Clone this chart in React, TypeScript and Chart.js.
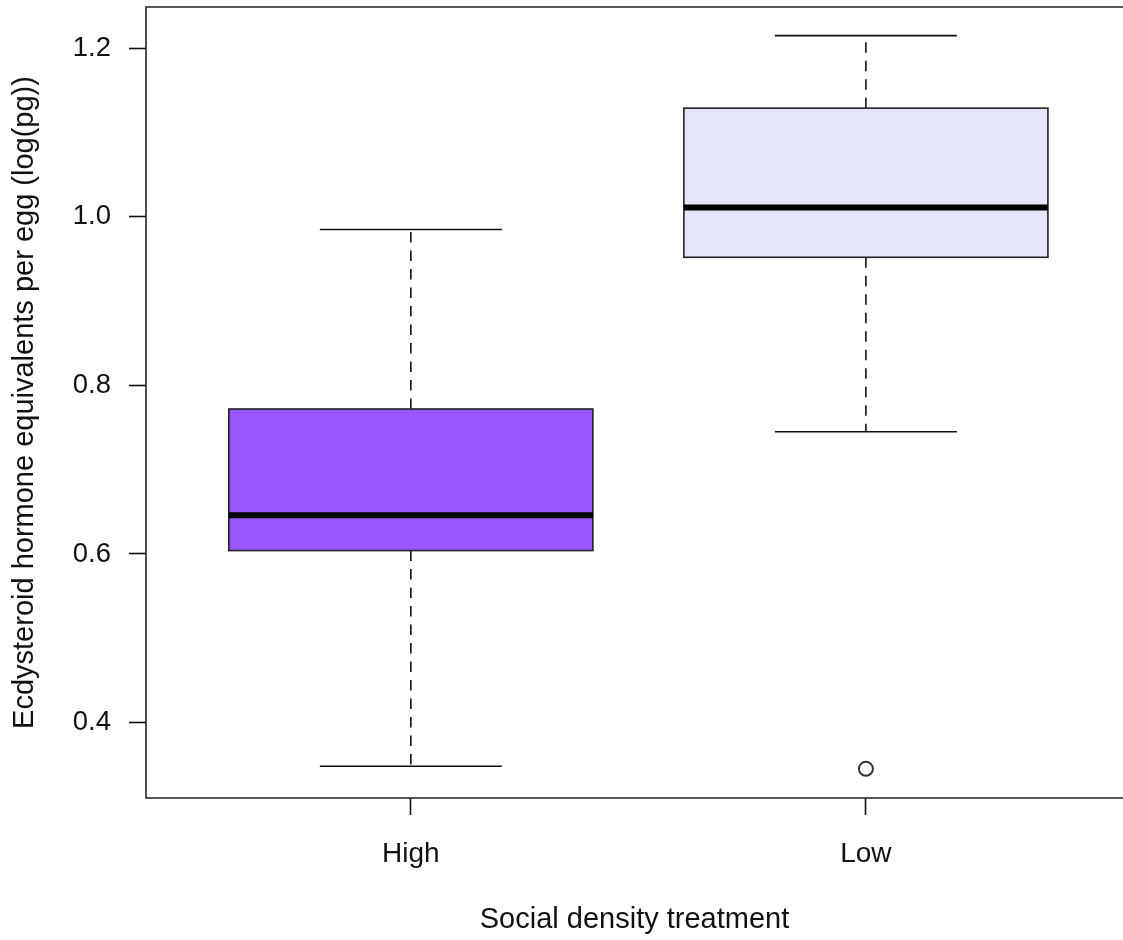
import React, { useEffect, useRef } from "react";
import { Chart, registerables } from "chart.js";

Chart.register(...registerables);

const categories = ["High", "Low"];
const whiskerLow = [0.348, 0.745];
const q1 = [0.604, 0.952];
const median = [0.646, 1.011];
const q3 = [0.772, 1.129];
const whiskerHigh = [0.985, 1.215];
const outliers = [[], [0.345]];
const boxColors = ["#9B55FC", "#E6E6FA"];
const yTicks = [0.4, 0.6, 0.8, 1.0, 1.2];

const FONT = "'Liberation Sans', Arial, sans-serif";

const boxPlugin = {
  id: "boxplot",
  beforeDatasetsDraw(chart: any) {
    const { ctx, scales } = chart;
    const x = scales.x;
    const y = scales.y;
    ctx.save();
    categories.forEach((_, i) => {
      const c = x.getPixelForValue(i + 1);
      const half = x.getPixelForValue(i + 1 + 0.4) - c;
      const cap = x.getPixelForValue(i + 1 + 0.2) - c;
      const yq1 = y.getPixelForValue(q1[i]);
      const yq3 = y.getPixelForValue(q3[i]);
      const ymed = y.getPixelForValue(median[i]);
      const ylo = y.getPixelForValue(whiskerLow[i]);
      const yhi = y.getPixelForValue(whiskerHigh[i]);
      ctx.strokeStyle = "#111";
      ctx.lineWidth = 1.6;
      ctx.setLineDash([10.5, 8]);
      ctx.beginPath();
      ctx.moveTo(c, yq3);
      ctx.lineTo(c, yhi);
      ctx.moveTo(c, yq1);
      ctx.lineTo(c, ylo);
      ctx.stroke();
      ctx.setLineDash([]);
      ctx.beginPath();
      ctx.moveTo(c - cap, yhi);
      ctx.lineTo(c + cap, yhi);
      ctx.moveTo(c - cap, ylo);
      ctx.lineTo(c + cap, ylo);
      ctx.stroke();
      ctx.fillStyle = boxColors[i];
      ctx.fillRect(c - half, yq3, 2 * half, yq1 - yq3);
      ctx.strokeStyle = "#222";
      ctx.lineWidth = 1.6;
      ctx.strokeRect(c - half, yq3, 2 * half, yq1 - yq3);
      ctx.strokeStyle = "#000";
      ctx.lineWidth = 6;
      ctx.beginPath();
      ctx.moveTo(c - half, ymed);
      ctx.lineTo(c + half, ymed);
      ctx.stroke();
    });
    ctx.restore();
  },
  afterDraw(chart: any) {
    const { ctx, chartArea } = chart;
    ctx.save();
    ctx.strokeStyle = "#222";
    ctx.lineWidth = 1.6;
    ctx.beginPath();
    ctx.moveTo(chartArea.right + 2, chartArea.top);
    ctx.lineTo(chartArea.left, chartArea.top);
    ctx.lineTo(chartArea.left, chartArea.bottom);
    ctx.lineTo(chartArea.right + 2, chartArea.bottom);
    ctx.stroke();
    ctx.restore();
  },
};

export default function App() {
  const ref = useRef<HTMLCanvasElement>(null);
  useEffect(() => {
    if (!ref.current) return;
    const outlierPoints: { x: number; y: number }[] = [];
    outliers.forEach((arr, i) => arr.forEach((v) => outlierPoints.push({ x: i + 1, y: v })));
    const chart = new Chart(ref.current, {
      type: "scatter",
      data: {
        datasets: [
          {
            data: outlierPoints,
            pointStyle: "circle",
            pointRadius: 7,
            borderWidth: 2,
            borderColor: "#333",
            backgroundColor: "rgba(0,0,0,0)",
          },
        ],
      },
      options: {
        animation: false,
        responsive: false,
        devicePixelRatio: 1,
        events: [],
        layout: { autoPadding: false, padding: { top: 7, left: 0, right: 0, bottom: 0 } },
        plugins: { legend: { display: false }, tooltip: { enabled: false } },
        scales: {
          x: {
            type: "linear",
            min: 0.418,
            max: 2.565,
            offset: false,
            border: { display: false },
            grid: { drawOnChartArea: false, drawTicks: true, tickLength: 17, tickColor: "#111", tickWidth: 1.6 },
            afterBuildTicks: (s: any) => {
              s.ticks = categories.map((_, i) => ({ value: i + 1 }));
            },
            afterFit: (s: any) => {
              s.height = 142;
              s.paddingLeft = 0;
              s.paddingRight = 0;
            },
            ticks: {
              autoSkip: false,
              maxRotation: 0,
              padding: 22,
              color: "#111",
              font: { family: FONT, size: 28 },
              callback: (v: any) => categories[Math.round(v) - 1] ?? "",
            },
            title: {
              display: true,
              text: "Social density treatment",
              color: "#111",
              font: { family: FONT, size: 29 },
              padding: { top: 0, bottom: 2.6 },
            },
          },
          y: {
            type: "linear",
            min: 0.3104,
            max: 1.249,
            border: { display: false },
            grid: { drawOnChartArea: false, drawTicks: true, tickLength: 17, tickColor: "#111", tickWidth: 1.6 },
            afterBuildTicks: (s: any) => {
              s.ticks = yTicks.map((v) => ({ value: v }));
            },
            afterFit: (s: any) => {
              s.width = 146;
              s.paddingTop = 0;
              s.paddingBottom = 0;
            },
            ticks: {
              padding: 18,
              color: "#111",
              font: { family: FONT, size: 27.5 },
              callback: (v: any) => Number(v).toFixed(1),
            },
            title: {
              display: true,
              text: "Ecdysteroid hormone equivalents per egg (log(pg))",
              color: "#111",
              font: { family: FONT, size: 29 },
              padding: { top: 8, bottom: 0 },
            },
          },
        },
      },
      plugins: [boxPlugin],
    } as any);
    return () => chart.destroy();
  }, []);
  return (
    <div style={{ position: "fixed", left: 0, top: 0, width: 1123, height: 940, background: "#fff" }}>
      <canvas ref={ref} width={1123} height={940} style={{ display: "block" }} />
    </div>
  );
}
